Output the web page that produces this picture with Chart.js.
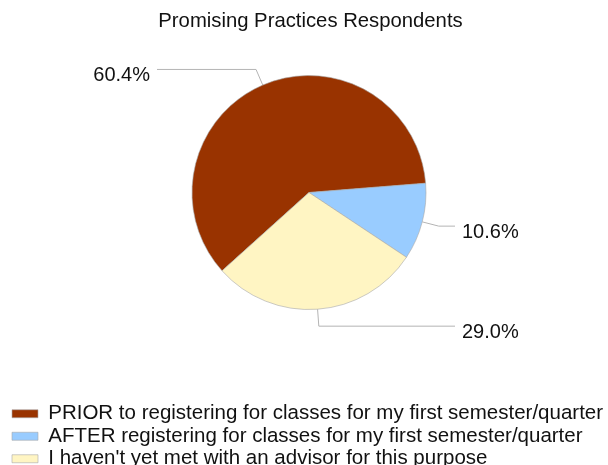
<!DOCTYPE html>
<html>
<head>
<meta charset="utf-8">
<script src="https://cdn.jsdelivr.net/npm/chart.js@4/dist/chart.umd.min.js"></script>
<style>
  html, body { margin: 0; padding: 0; background: #ffffff; }
  #wrap { width: 608px; height: 465px; position: relative; }
</style>
</head>
<body>
<div id="wrap"><canvas id="c"></canvas></div>
<script>
const chartTitle = "Promising Practices Respondents";
const categories = [
  "PRIOR to registering for classes for my first semester/quarter",
  "AFTER registering for classes for my first semester/quarter",
  "I haven't yet met with an advisor for this purpose"
];
const values = [60.4, 10.6, 29.0];
const colors = ["#993300", "#99CCFF", "#FFF5C3"];

const FONT = "'Liberation Sans', Arial, sans-serif";

const leaderPlugin = {
  id: 'leaders',
  afterDatasetsDraw(chart) {
    const ctx = chart.ctx;
    const meta = chart.getDatasetMeta(0);
    const total = values.reduce((a, b) => a + b, 0);
    ctx.save();
    meta.data.forEach((arc, i) => {
      const p = arc.getProps(['x', 'y', 'startAngle', 'endAngle', 'outerRadius'], true);
      const mid = (p.startAngle + p.endAngle) / 2;
      const c = Math.cos(mid), s = Math.sin(mid);
      const x0 = p.x + c * p.outerRadius, y0 = p.y + s * p.outerRadius;
      const ext = p.outerRadius + 17;
      const x1 = p.x + c * ext, y1 = p.y + s * ext;
      const right = c >= 0;
      const x2 = right ? p.x + 146 : p.x - 152;
      ctx.strokeStyle = '#b4b4b4';
      ctx.lineWidth = 1;
      ctx.beginPath();
      ctx.moveTo(x0, y0);
      ctx.lineTo(x1, y1);
      ctx.lineTo(x2, y1);
      ctx.stroke();
      ctx.fillStyle = '#111111';
      ctx.font = '20px ' + FONT;
      ctx.textBaseline = 'middle';
      ctx.textAlign = right ? 'left' : 'right';
      const txt = (values[i] / total * 100).toFixed(1) + '%';
      ctx.fillText(txt, right ? x2 + 7 : x2 - 7, y1 + 6);
    });
    ctx.restore();
  }
};

new Chart(document.getElementById('c'), {
  type: 'pie',
  data: {
    labels: categories,
    datasets: [{
      data: values,
      backgroundColor: colors,
      borderColor: '#a8a8a8',
      borderWidth: 0.6,
      radius: 117
    }]
  },
  options: {
    responsive: true,
    maintainAspectRatio: false,
    animation: false,
    rotation: 228,
    layout: { padding: { left: 10, right: -3, top: 0, bottom: -14 } },
    plugins: {
      title: {
        display: true,
        text: chartTitle,
        color: '#111111',
        font: { family: FONT, size: 20.3, weight: 'normal' },
        padding: { top: 9, bottom: 10 }
      },
      legend: {
        display: true,
        position: 'bottom',
        align: 'start',
        title: {
          display: true,
          text: '',
          font: { size: 10, lineHeight: 1 },
          padding: { top: 0, bottom: 49.8 }
        },
        labels: {
          boxWidth: 26,
          boxHeight: 8,
          padding: 2,
          color: '#111111',
          font: { family: FONT, size: 20.5 }
        }
      },
      tooltip: { enabled: false }
    }
  },
  plugins: [leaderPlugin]
});
</script>
</body>
</html>
